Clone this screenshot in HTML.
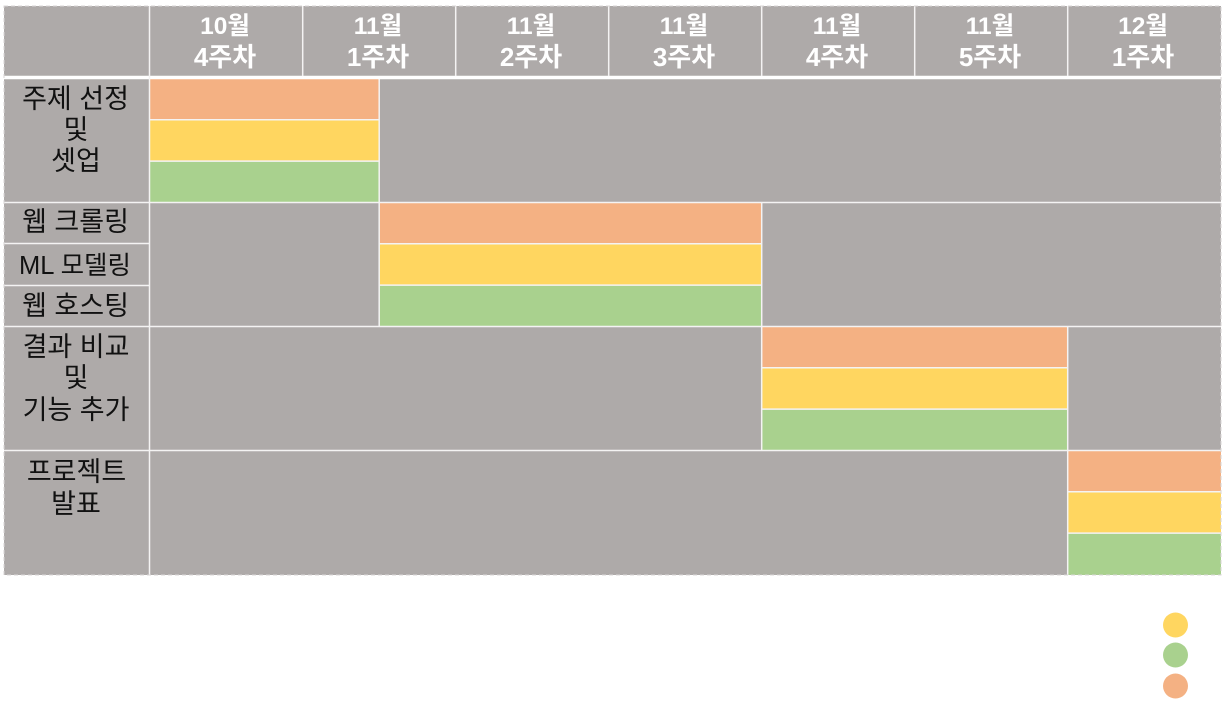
<!DOCTYPE html>
<html lang="ko">
<head>
<meta charset="utf-8">
<title>프로젝트 일정</title>
<style>
html,body{margin:0;padding:0;background:#fff;width:1226px;height:718px;overflow:hidden}
svg{display:block}
text{font-family:"Liberation Sans","Noto Sans CJK KR",sans-serif}
.hd{font-size:26px;font-weight:700;fill:#fff;text-anchor:middle}
.hm{font-size:24.5px}
.lb{font-size:27px;fill:#111;text-anchor:middle}
.ml{font-size:25.5px}
</style>
</head>
<body>
<svg id="chart" xmlns="http://www.w3.org/2000/svg" width="1226" height="718" viewBox="0 0 1226 718">
  <rect x="4" y="6" width="1217" height="569" fill="#aeaaa9"/>
  <g id="marks"></g>
  <g id="grid" stroke="#f4f3f3" fill="none"></g>
  <rect x="4" y="6" width="1217" height="569" fill="none" stroke="#d8d6d6" stroke-width="1" stroke-dasharray="4 3"/>
  <g id="head"></g>
  <g>
    <text class="lb" x="75.5" y="108">주제 선정</text>
    <text class="lb" x="76" y="139">및</text>
    <text class="lb" x="76" y="170">셋업</text>
    <text class="lb" x="75.5" y="231">웹 크롤링</text>
    <text class="lb ml" x="75" y="274">ML 모델링</text>
    <text class="lb" x="75.5" y="315">웹 호스팅</text>
    <text class="lb" x="76" y="356">결과 비교</text>
    <text class="lb" x="76" y="387">및</text>
    <text class="lb" x="76" y="419">기능 추가</text>
    <text class="lb" x="76.5" y="481">프로젝트</text>
    <text class="lb" x="76" y="513">발표</text>
  </g>
  <g>
    <circle cx="1175.5" cy="625" r="12.5" fill="#ffd660"/>
    <circle cx="1175.5" cy="655" r="12.5" fill="#a9d18e"/>
    <circle cx="1175.5" cy="686" r="12.5" fill="#f4b183"/>
  </g>
</svg>
<script>
var weekMonths = ['10월','11월','11월','11월','11월','11월','12월'];
var weekNames = ['4주차','1주차','2주차','3주차','4주차','5주차','1주차'];
var phaseStarts = [0, 1.5, 4, 6];
var phaseEnds = [1.5, 4, 6, 7];
var laneColors = ['#f4b183', '#ffd660', '#a9d18e'];

var NS = 'http://www.w3.org/2000/svg';
function xAxis(w){ return 150 + w * 153; }
function phaseTop(i){ return 79 + i * 124; }
function laneTop(i, l){ return phaseTop(i) + l * 41.3; }
function make(tag, attrs, parent){
  var e = document.createElementNS(NS, tag);
  for (var k in attrs) e.setAttribute(k, attrs[k]);
  parent.appendChild(e);
  return e;
}
var marks = document.getElementById('marks');
var grid = document.getElementById('grid');
var head = document.getElementById('head');

phaseStarts.forEach(function(s, i){
  laneColors.forEach(function(c, l){
    var r = make('rect', {x: xAxis(s), y: laneTop(i, l), width: xAxis(phaseEnds[i]) - xAxis(s), height: 41.3, fill: c}, marks);
    
    
    if (l < laneColors.length - 1) {
      var sep = make('line', {x1: xAxis(s), x2: xAxis(phaseEnds[i]), y1: laneTop(i, l) + 40.8, y2: laneTop(i, l) + 40.8, stroke: '#f4f3f3', 'stroke-width': 1.5}, grid);
      
      
    }
  });
  [s, phaseEnds[i]].forEach(function(w){
    if (w === 0 || w === 7) return;
    var v = make('line', {x1: xAxis(w) - 0.3, x2: xAxis(w) - 0.3, y1: phaseTop(i), y2: phaseTop(i) + 124, 'stroke-width': 1.5}, grid);
    
    
  });
  if (i < phaseStarts.length - 1) {
    var h = make('line', {x1: 4, x2: 1221, y1: phaseTop(i) + 123.5, y2: phaseTop(i) + 123.5, 'stroke-width': 1.5}, grid);
    
    
  }
});

var labelSeps = [243.5, 285.5];
labelSeps.forEach(function(y){
  var h = make('line', {x1: 4, x2: 149, y1: y, y2: y, 'stroke-width': 1.5}, grid);
  
  
});

var headLine = make('line', {x1: 4, x2: 1221, y1: 77.5, y2: 77.5, 'stroke-width': 3.5, stroke: '#fff'}, grid);



var labelLine = make('line', {x1: 149.5, x2: 149.5, y1: 6, y2: 575, 'stroke-width': 1.5}, grid);



weekMonths.forEach(function(m, i){
  if (i > 0) {
    var v = make('line', {x1: xAxis(i) - 0.3, x2: xAxis(i) - 0.3, y1: 6, y2: 76, 'stroke-width': 1.5}, grid);
    
    
  }
  var cx = xAxis(i) + 75;
  var t1 = make('text', {'class': 'hd hm', x: cx, y: 34}, head);
  t1.textContent = m;
  
  
  var t2 = make('text', {'class': 'hd', x: cx, y: 66}, head);
  t2.textContent = weekNames[i];
  
  
});
</script>
</body>
</html>
